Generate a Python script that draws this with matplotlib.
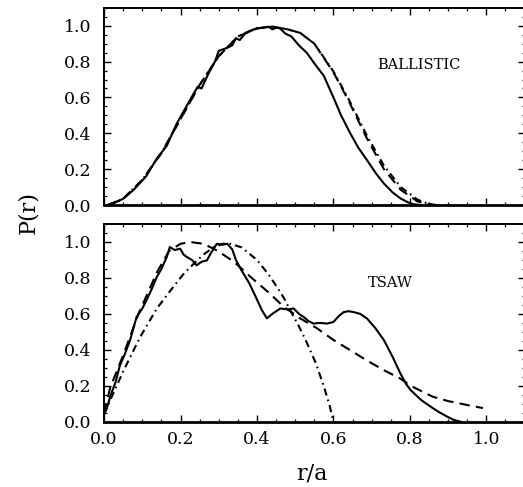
import numpy as np
import matplotlib
matplotlib.use("Agg")
import matplotlib.pyplot as plt
from matplotlib.ticker import MultipleLocator

plt.rcParams.update({
    "font.family": "DejaVu Serif",
    "font.size": 11,
    "xtick.direction": "in",
    "ytick.direction": "in",
    "xtick.top": True,
    "ytick.right": True,
})

# ---- BALLISTIC panel ----
bal_sim_x = [0.01, 0.03, 0.05, 0.077, 0.11, 0.138, 0.164, 0.189, 0.21, 0.234, 0.245,
             0.255, 0.27, 0.29, 0.30, 0.32, 0.335, 0.345, 0.355, 0.37, 0.385, 0.40,
             0.417, 0.43, 0.44, 0.452, 0.46, 0.475, 0.49, 0.51, 0.531, 0.55, 0.575,
             0.60, 0.62, 0.644, 0.665, 0.688, 0.71, 0.732, 0.755, 0.776, 0.795, 0.81, 0.83]
bal_sim_y = [0.0, 0.015, 0.035, 0.084, 0.16, 0.26, 0.33, 0.45, 0.53, 0.62, 0.66,
             0.65, 0.72, 0.80, 0.86, 0.875, 0.89, 0.93, 0.92, 0.96, 0.975, 0.985,
             0.99, 0.995, 0.98, 0.99, 0.985, 0.955, 0.94, 0.89, 0.847, 0.79, 0.72,
             0.60, 0.50, 0.40, 0.32, 0.25, 0.18, 0.12, 0.07, 0.036, 0.015, 0.004, 0.0]

bal_dash_x = [0.01, 0.05, 0.1, 0.15, 0.2, 0.25, 0.3, 0.35, 0.4, 0.44, 0.48, 0.513,
              0.55, 0.6, 0.64, 0.688, 0.732, 0.776, 0.82, 0.863]
bal_dash_y = [0.0, 0.035, 0.14, 0.29, 0.48, 0.67, 0.83, 0.94, 0.985, 0.995, 0.98, 0.96,
              0.9, 0.74, 0.58, 0.37, 0.2, 0.085, 0.02, 0.0]

bal_dd_x = [0.01, 0.05, 0.1, 0.15, 0.2, 0.25, 0.3, 0.35, 0.4, 0.44, 0.48, 0.513,
            0.55, 0.6, 0.64, 0.688, 0.732, 0.776, 0.82, 0.85, 0.87]
bal_dd_y = [0.0, 0.035, 0.14, 0.29, 0.48, 0.67, 0.83, 0.94, 0.985, 0.995, 0.98, 0.96,
            0.9, 0.745, 0.59, 0.385, 0.22, 0.1, 0.03, 0.005, 0.0]

# ---- TSAW panel ----
tsaw_sim_x = [0.0, 0.008, 0.016, 0.03, 0.041, 0.055, 0.068, 0.085, 0.1, 0.111, 0.125,
              0.138, 0.15, 0.164, 0.172, 0.185, 0.199, 0.208, 0.216, 0.23, 0.242, 0.255,
              0.269, 0.28, 0.295, 0.31, 0.322, 0.335, 0.345, 0.36, 0.38, 0.40, 0.413,
              0.426, 0.44, 0.461, 0.48, 0.496, 0.51, 0.522, 0.535, 0.548, 0.565, 0.583,
              0.60, 0.615, 0.627, 0.64, 0.653, 0.67, 0.688, 0.71, 0.732, 0.755, 0.775,
              0.79, 0.802, 0.83, 0.855, 0.875, 0.898, 0.915, 0.933]
tsaw_sim_y = [0.047, 0.08, 0.14, 0.22, 0.31, 0.38, 0.454, 0.583, 0.63, 0.676, 0.74,
              0.806, 0.85, 0.917, 0.972, 0.955, 0.963, 0.93, 0.917, 0.90, 0.87, 0.89,
              0.898, 0.94, 0.99, 0.985, 0.99, 0.96, 0.90, 0.84, 0.77, 0.68, 0.62,
              0.575, 0.60, 0.63, 0.625, 0.63, 0.60, 0.583, 0.56, 0.546, 0.55, 0.546,
              0.555, 0.59, 0.61, 0.615, 0.61, 0.60, 0.574, 0.52, 0.454, 0.36, 0.269,
              0.21, 0.176, 0.12, 0.083, 0.055, 0.028, 0.01, 0.0]

tsaw_dash_x = [0.0, 0.016, 0.05, 0.09, 0.138, 0.17, 0.2, 0.225, 0.26, 0.295, 0.34,
               0.383, 0.43, 0.47, 0.513, 0.557, 0.6, 0.644, 0.688, 0.732, 0.775, 0.802,
               0.86, 0.9, 0.948, 0.991]
tsaw_dash_y = [0.047, 0.19, 0.37, 0.6, 0.83, 0.95, 0.99, 1.0, 0.99, 0.953, 0.89,
               0.806, 0.72, 0.64, 0.575, 0.52, 0.455, 0.398, 0.34, 0.287, 0.24, 0.2,
               0.139, 0.115, 0.094, 0.076]

tsaw_dd_x = [0.0, 0.016, 0.05, 0.094, 0.138, 0.181, 0.207, 0.235, 0.26, 0.286, 0.31,
             0.33, 0.36, 0.4, 0.43, 0.452, 0.47, 0.487, 0.51, 0.531, 0.555, 0.575,
             0.59, 0.6]
tsaw_dd_y = [0.04, 0.12, 0.28, 0.47, 0.63, 0.75, 0.82, 0.88, 0.93, 0.97, 0.99,
             0.99, 0.97, 0.9, 0.82, 0.75, 0.69, 0.62, 0.53, 0.437, 0.32, 0.196,
             0.09, 0.0]

yticks = [0.0, 0.2, 0.4, 0.6, 0.8, 1.0]
xticks = [0.0, 0.2, 0.4, 0.6, 0.8, 1.0]

fig = plt.figure(figsize=(5.23, 4.87), dpi=100)
ax_top = fig.add_axes([0.199, 0.579, 0.804, 0.405])
ax_bot = fig.add_axes([0.199, 0.134, 0.804, 0.406])

LW = 1.5
DASH = (0, (5, 3))
DASHDOT = (0, (3.5, 2, 0.8, 2))


def style(ax):
    ax.set_xlim(0, 1.1)
    ax.set_ylim(0, 1.1)
    ax.set_xticks(xticks)
    ax.set_yticks(yticks)
    ax.set_yticklabels([f"{v:.1f}" for v in yticks])
    ax.xaxis.set_minor_locator(MultipleLocator(0.05))
    ax.yaxis.set_minor_locator(MultipleLocator(0.05))
    ax.tick_params(which="major", length=5, width=1.0, labelsize=12.5, pad=9)
    ax.tick_params(which="minor", length=2.5, width=0.9)
    for s in ax.spines.values():
        s.set_linewidth(1.4)
    ax.spines["bottom"].set_linewidth(2.0)


ax_top.plot(bal_sim_x, bal_sim_y, color="black", lw=LW, ls="-")
ax_top.plot(bal_dash_x, bal_dash_y, color="black", lw=LW, ls=DASH)
ax_top.plot(bal_dd_x, bal_dd_y, color="black", lw=LW, ls=DASHDOT)
ax_top.text(0.715, 0.78, "BALLISTIC", fontsize=10.5, va="center", ha="left")
style(ax_top)
ax_top.set_xticklabels([])

ax_bot.plot(tsaw_sim_x, tsaw_sim_y, color="black", lw=LW, ls="-")
ax_bot.plot(tsaw_dash_x, tsaw_dash_y, color="black", lw=LW, ls=DASH)
ax_bot.plot(tsaw_dd_x, tsaw_dd_y, color="black", lw=LW, ls=DASHDOT)
ax_bot.text(0.69, 0.77, "TSAW", fontsize=10.5, va="center", ha="left")
style(ax_bot)
ax_bot.set_xticklabels([f"{v:.1f}" for v in xticks])
ax_bot.tick_params(axis="x", pad=7)

fig.text(28 / 523, 1 - 212 / 487, "P(r)", rotation=90, fontsize=16,
         ha="center", va="center")
fig.text(312 / 523, 1 - 473 / 487, "r/a", fontsize=16, ha="center", va="center")

fig.savefig("out.png", dpi=100)
